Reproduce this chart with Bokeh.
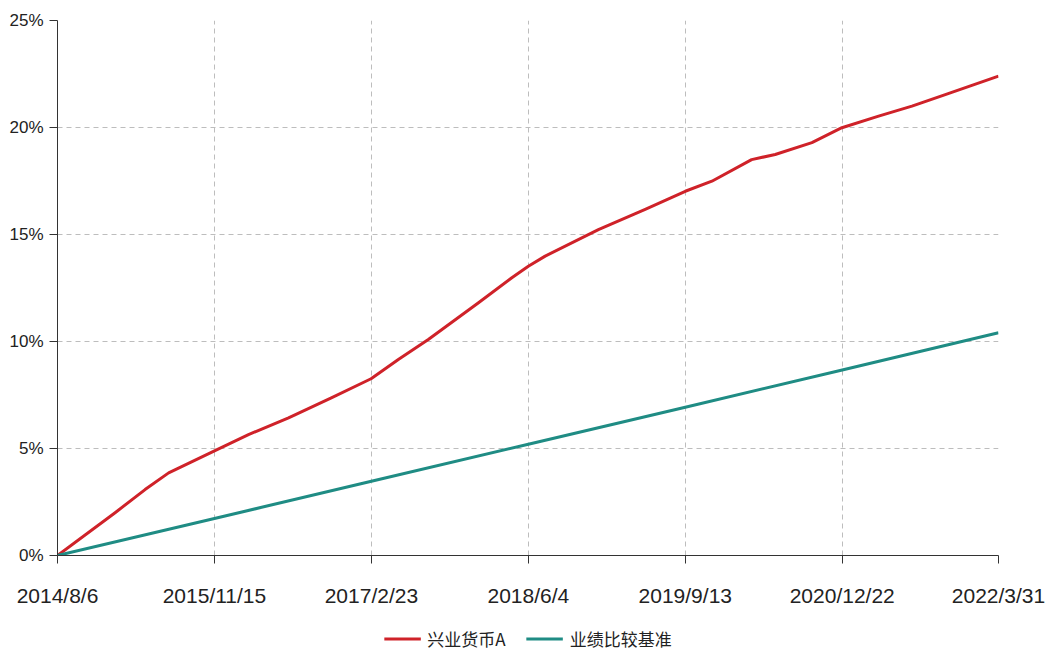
import pandas as pd
from bokeh.plotting import figure
from bokeh.layouts import column
from bokeh.models import FixedTicker, Legend, LegendItem, Range1d
from bokeh.embed import file_html
from bokeh.resources import INLINE

start_date = "2014-08-06"
tick_dates = ["2014-08-06", "2015-11-15", "2017-02-23", "2018-06-04",
              "2019-09-13", "2020-12-22", "2022-03-31"]
tick_labels = ["2014/8/6", "2015/11/15", "2017/2/23", "2018/6/4",
               "2019/9/13", "2020/12/22", "2022/3/31"]

fund_name = "兴业货币A"
fund_dates = ["2014-08-06", "2015-01-24", "2015-04-23", "2015-07-02", "2015-11-12",
              "2016-02-24", "2016-06-22", "2016-10-27", "2017-02-22", "2017-05-14",
              "2017-08-11", "2018-01-07", "2018-04-16", "2018-06-04", "2018-07-24",
              "2018-12-29", "2019-05-17", "2019-09-13", "2019-12-01", "2020-03-28",
              "2020-06-06", "2020-09-23", "2020-12-21", "2021-04-09", "2021-07-17",
              "2021-10-24", "2022-03-31"]
fund_values = [0.00, 2.00, 3.08, 3.86, 4.87,
               5.65, 6.43, 7.37, 8.26, 9.16,
               10.09, 11.81, 12.98, 13.52, 13.99,
               15.23, 16.17, 17.02, 17.49, 18.50,
               18.74, 19.29, 19.99, 20.53, 21.00,
               21.54, 22.40]

bench_name = "业绩比较基准"
bench_dates = ["2014-08-06", "2015-11-15", "2017-02-23", "2018-06-04",
               "2019-09-13", "2020-12-22", "2022-03-31"]
bench_values = [0.00, 1.73, 3.47, 5.20, 6.93, 8.67, 10.41]

y_ticks = [0, 5, 10, 15, 20, 25]
y_labels = ["0%", "5%", "10%", "15%", "20%", "25%"]

FUND_COLOR = "#cf2229"
BENCH_COLOR = "#1f8c84"

t0 = pd.Timestamp(start_date)


def to_days(ds):
    return [int((pd.Timestamp(d) - t0).days) for d in ds]


fund_x = to_days(fund_dates)
bench_x = to_days(bench_dates)
tick_x = to_days(tick_dates)

LATIN = "Liberation Sans, sans-serif"
CJK = "Noto Sans CJK SC"

p = figure(frame_width=941, frame_height=535,
           min_border_left=57, min_border_right=49,
           min_border_top=20, min_border_bottom=72,
           output_backend="svg", toolbar_location=None,
           x_range=Range1d(tick_x[0], tick_x[-1]),
           y_range=Range1d(y_ticks[0], y_ticks[-1]))
p.outline_line_color = None
p.background_fill_color = "white"
p.border_fill_color = "white"

p.line(fund_x, fund_values, line_color=FUND_COLOR, line_width=3, line_join="round")
p.line(bench_x, bench_values, line_color=BENCH_COLOR, line_width=3, line_join="round")

p.xaxis.ticker = FixedTicker(ticks=tick_x)
p.xaxis.major_label_overrides = {x: lab for x, lab in zip(tick_x, tick_labels)}
p.yaxis.ticker = FixedTicker(ticks=y_ticks)
p.yaxis.major_label_overrides = {y: lab for y, lab in zip(y_ticks, y_labels)}

for ax in (p.xaxis[0], p.yaxis[0]):
    ax.axis_line_color = "#333333"
    ax.axis_line_width = 1
    ax.major_tick_line_color = "#333333"
    ax.major_tick_out = 8
    ax.major_tick_in = 0
    ax.minor_tick_out = 0
    ax.minor_tick_in = 0
    ax.major_label_text_font = LATIN
    ax.major_label_text_color = "#222222"

p.xaxis.major_label_text_font_size = "21px"
p.xaxis.major_label_standoff = 20
p.xaxis.axis_label_standoff = 0
p.yaxis.major_label_text_font_size = "17px"
p.yaxis.major_label_standoff = 6

for g in (p.xgrid[0], p.ygrid[0]):
    g.grid_line_color = "#bdbdbd"
    g.grid_line_dash = "5 4"
    g.grid_line_width = 1

# legend strip below the chart (swatch renderers lie outside its visible range)
lf = figure(frame_width=941, frame_height=22,
            min_border_left=57, min_border_right=49,
            min_border_top=0, min_border_bottom=0,
            output_backend="svg", toolbar_location=None,
            x_axis_type=None, y_axis_type=None,
            x_range=Range1d(0, 1), y_range=Range1d(0, 1))
lf.outline_line_color = None
lf.xgrid.visible = False
lf.ygrid.visible = False
lr1 = lf.line(x=[-5, -4], y=[-5, -4], line_color=FUND_COLOR, line_width=3)
lr2 = lf.line(x=[-5, -4], y=[-5, -4], line_color=BENCH_COLOR, line_width=3)

legend = Legend(items=[LegendItem(label=fund_name, renderers=[lr1]),
                       LegendItem(label=bench_name, renderers=[lr2])],
                location="center", orientation="horizontal",
                padding=0, margin=0, spacing=20,
                glyph_width=37, glyph_height=20, label_standoff=7,
                label_height=20,
                label_text_font=CJK, label_text_font_size="17px",
                label_text_color="#222222",
                border_line_color=None, background_fill_alpha=0)
lf.add_layout(legend, "center")

layout = column(p, lf, spacing=0)
open("out.html", "w").write(file_html(layout, INLINE))
